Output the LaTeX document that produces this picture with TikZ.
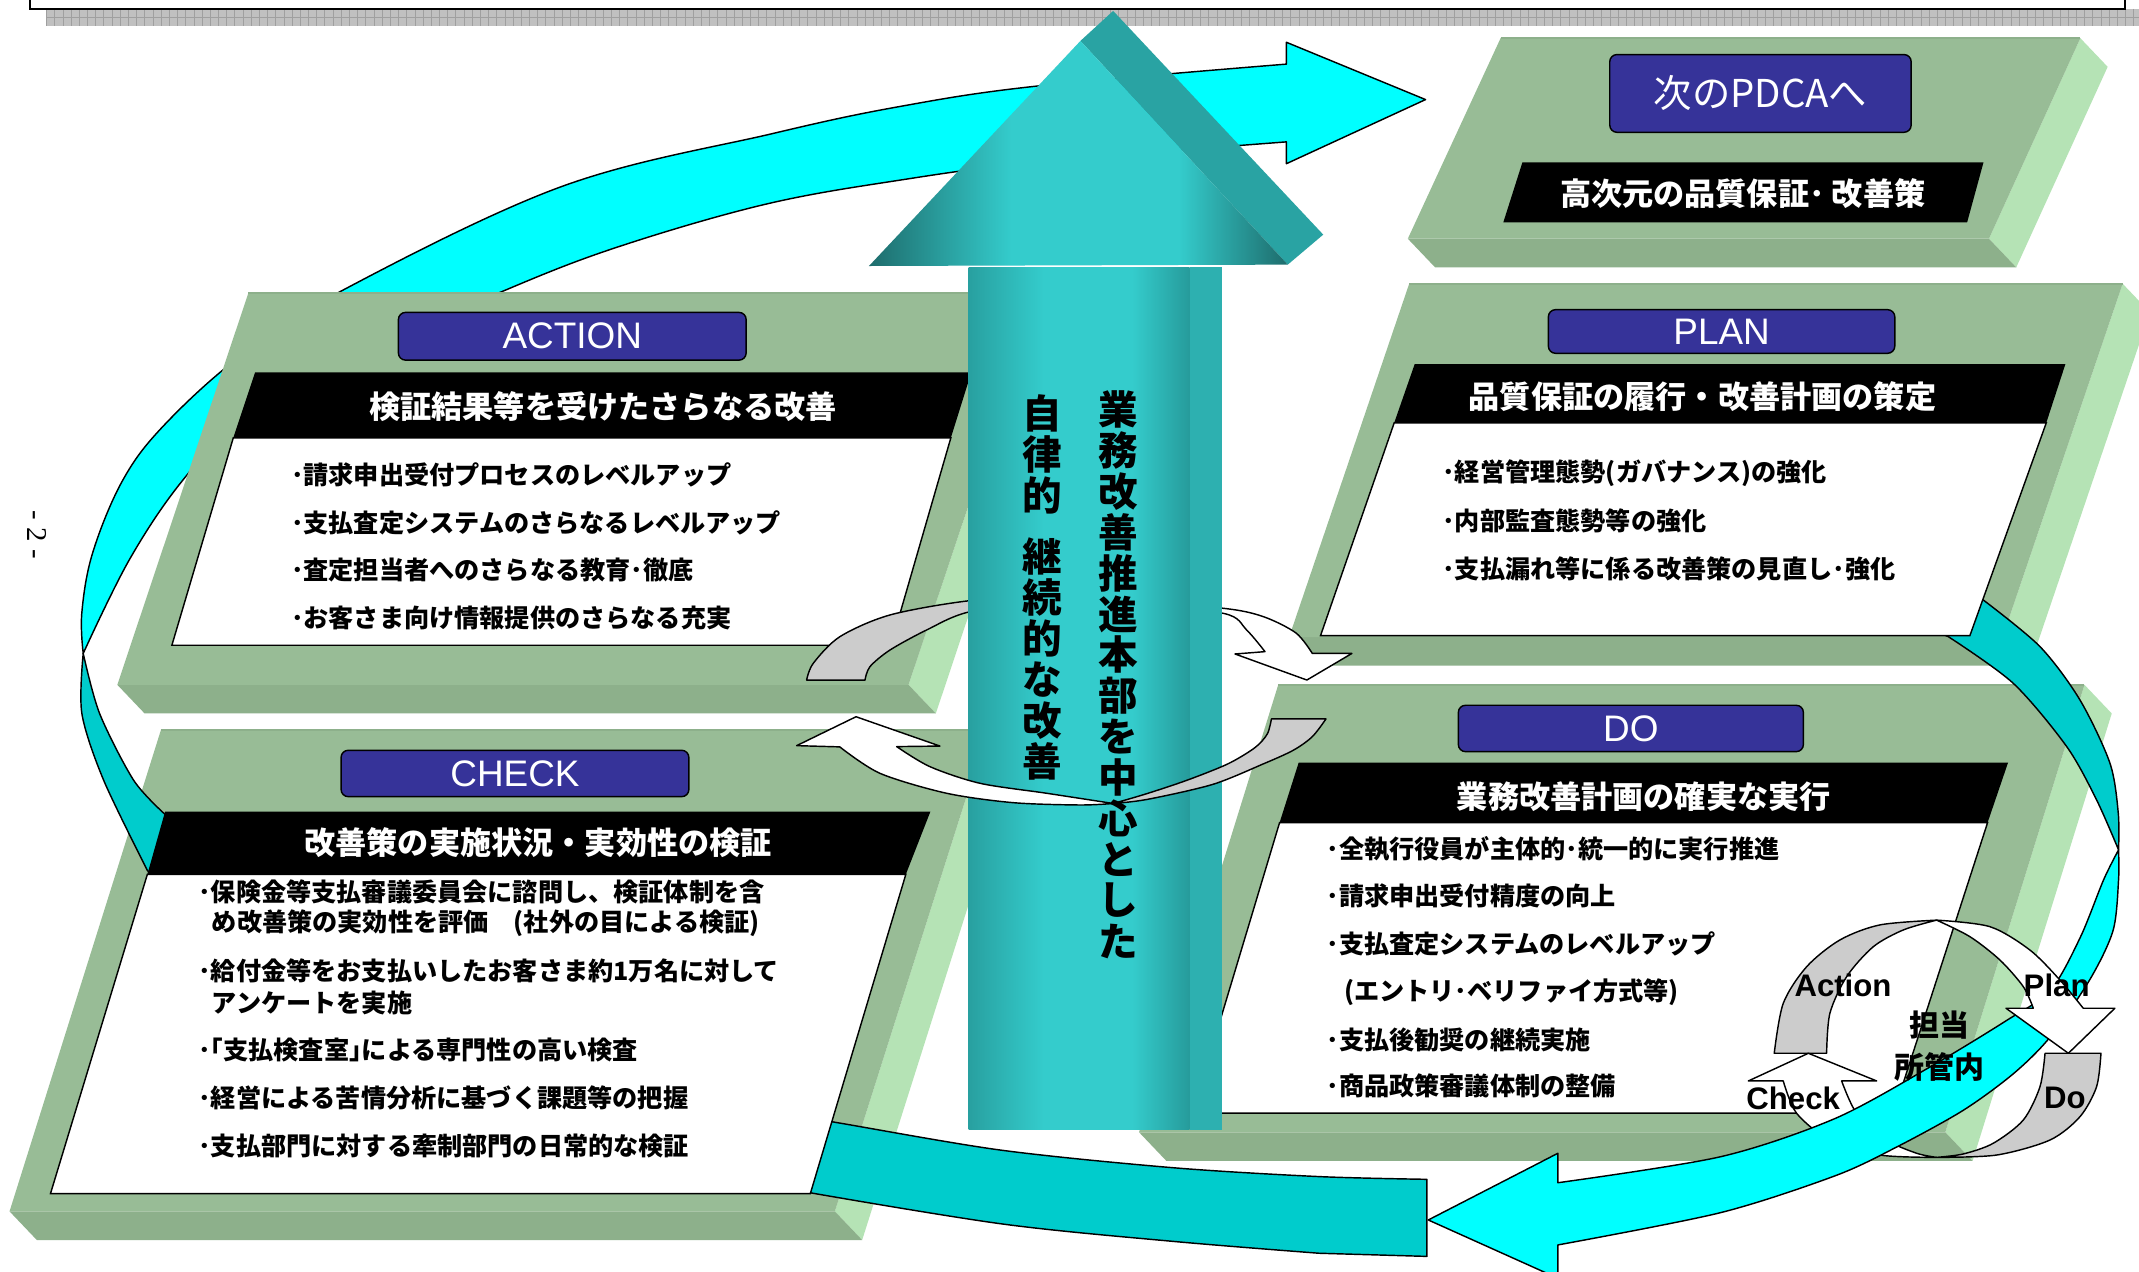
\documentclass[tikz,border=0pt]{standalone}
\usepackage{fontspec}
\usetikzlibrary{calc}
\newfontfamily\jp{Noto Sans CJK JP}
\newfontfamily\lab{Liberation Sans}
\newfontfamily\ser{Liberation Serif}
\definecolor{slabfront}{RGB}{152,188,150}
\definecolor{slabbot}{RGB}{141,176,139}
\definecolor{slabside}{RGB}{181,227,181}
\definecolor{cyanbright}{RGB}{0,255,255}
\definecolor{cyandark}{RGB}{0,204,204}
\definecolor{labblue}{RGB}{54,51,153}
\definecolor{ringgrey}{RGB}{204,204,204}
\definecolor{tealA}{RGB}{40,160,160}
\definecolor{tealB}{RGB}{52,204,204}
\definecolor{tealC}{RGB}{38,155,155}
\definecolor{tealSide}{RGB}{45,176,176}
\definecolor{tealHead}{RGB}{30,108,108}
\definecolor{tealHeadSide}{RGB}{41,163,163}
\definecolor{stripgrey}{RGB}{192,192,192}
\pgfdeclarehorizontalshading{shaftshade}{100bp}{color(0bp)=(tealA); color(25bp)=(tealA); color(42bp)=(tealB); color(62bp)=(tealB); color(75bp)=(tealC); color(100bp)=(tealC)}
\pgfdeclarehorizontalshading{headshade}{100bp}{color(0bp)=(tealHead); color(25bp)=(tealHead); color(42bp)=(tealB); color(62bp)=(tealB); color(75bp)=(tealHead); color(100bp)=(tealHead)}
\tikzset{
  band/.style={draw=black, line width=0.6pt, line join=round},
  brightband/.style={band, fill=cyanbright},
  darkband/.style={band, fill=cyandark},
  whitebox/.style={fill=white, draw=black, line width=0.6pt},
  labelbox/.style={fill=labblue, draw=black, line width=0.6pt, rounded corners=3pt, inner sep=0pt, text=white, font=\lab\fontsize{15.4}{17}\selectfont},
  item/.style={anchor=west, inner sep=0pt, font=\jp\bfseries\fontsize{10.5}{12}\selectfont},
  header/.style={inner sep=0pt, text=white, font=\jp\bfseries\fontsize{13}{15}\selectfont},
  vchar/.style={inner sep=0pt, font=\jp\bfseries\fontsize{16.5}{18}\selectfont},
  ringg/.style={fill=ringgrey, draw=black, line width=0.6pt, line join=round},
  ringw/.style={fill=white, draw=black, line width=0.6pt, line join=round},
  cyclab/.style={inner sep=0pt, font=\lab\bfseries\fontsize{13}{15}\selectfont},
  cycjp/.style={inner sep=0pt, font=\jp\bfseries\fontsize{12.5}{14}\selectfont},
}
\newcommand{\slabfaces}[4]{%
  \fill[slabside] (#2) -- ($(#2)+(20,21)$) -- ($(#3)+(20,21)$) -- (#3) -- cycle;
  \fill[slabbot] (#4) -- (#3) -- ($(#3)+(20,21)$) -- ($(#4)+(20,21)$) -- cycle;
  \fill[slabfront] (#1) -- (#2) -- (#3) -- (#4) -- cycle;
  \draw[slabbot, line width=0.8pt] (#1) -- (#2);
}
\begin{document}
\begin{tikzpicture}[x=0.02cm,y=-0.02cm]
\useasboundingbox (0,0) rectangle (1568,932);
\clip (0,0) rectangle (1568,932);
\fill[white] (0,0) rectangle (1568,932);

% header strip
\fill[stripgrey] (34,6.6) rectangle (1568,19);
\foreach \i in {0,...,255} \draw[gray!75, line width=0.15pt] ({34+6*\i},6.6) -- ({34+6*\i},19);
\draw[gray!75, line width=0.15pt] (34,12.8) -- (1568,12.8);
\draw[line width=0.8pt] (22,-2) -- (22,6.6) -- (1558,6.6) -- (1558,-2);

% page number
\node[rotate=-90, inner sep=0pt, font=\ser\fontsize{12}{14}\selectfont] (pg) at (27,392) {- 2 -};

% bright cyan band (left + top, arrow to next PDCA)
\filldraw[brightband] plot[smooth, tension=0.6] coordinates {(61,479) (60,449) (68,405) (90,352) (120,312) (175,262) (247,215) (411,137) (566,98) (660,78) (761,63) (943,47)}
  -- (943,31) -- (1045,73) -- (943,120) --
  plot[smooth, tension=0.6] coordinates {(943,104) (760,119) (660,132) (560,150) (450,182) (365,215) (260,262) (180,305) (134,352) (95,410) (61,479)} -- cycle;

% slab coordinates
\coordinate (nTL) at (1100,28);  \coordinate (nTR) at (1525,28);  \coordinate (nBR) at (1458,175); \coordinate (nBL) at (1032,175);
\coordinate (aTL) at (182,215);  \coordinate (aTR) at (762,215);  \coordinate (aBR) at (666,502);  \coordinate (aBL) at (86,502);
\coordinate (pTL) at (1033,208); \coordinate (pTR) at (1556,208); \coordinate (pBR) at (1468,467); \coordinate (pBL) at (945,467);
\coordinate (cTL) at (118,535);  \coordinate (cTR) at (724,535);  \coordinate (cBR) at (612,888);  \coordinate (cBL) at (7,888);
\coordinate (dTL) at (937,502);  \coordinate (dTR) at (1528,502); \coordinate (dBR) at (1426,830); \coordinate (dBL) at (835,830);

\slabfaces{nTL}{nTR}{nBR}{nBL}
\slabfaces{aTL}{aTR}{aBR}{aBL}
\slabfaces{pTL}{pTR}{pBR}{pBL}
\slabfaces{cTL}{cTR}{cBR}{cBL}
\slabfaces{dTL}{dTR}{dBR}{dBL}

% dark cyan bands (over slab faces, under boxes)
\filldraw[darkband] plot[smooth] coordinates {(61,479) (60,523) (76,572) (108,638)} -- (116,648) -- (135,600) --
  plot[smooth] coordinates {(121,597) (98,572) (73,523) (61,479)} -- cycle;
\filldraw[darkband] plot[smooth] coordinates {(560,815) (608,822) (733,843) (860,856) (967,862.5) (1046,864.5)} -- (1046,921) --
  plot[smooth] coordinates {(967,918.7) (860,910) (733,897) (575,871) (540,862)} -- cycle;
\filldraw[darkband] (1420,418) -- plot[smooth] coordinates {(1453.8,439.8) (1495.4,474) (1524.7,513.1) (1546.7,559.5) (1552.8,596.2) (1553,623)}
  -- plot[smooth] coordinates {(1553,623) (1536.9,586.4) (1515,547.3) (1475.8,500.9) (1428.2,466.7)} -- (1400,455) -- cycle;

% NEXT slab content
\fill[black] (1116,119) -- (1454,119) -- (1442,163) -- (1102,163) -- cycle;
\node[labelbox, minimum width=4.42cm, minimum height=1.14cm, font=\jp\fontsize{16}{18}\selectfont] (nextL) at (1290.5,68.5) {次のPDCAへ};
\node[header] (nextH) at (1277.5,142) {高次元の品質保証･ 改善策};

% ACTION slab content
\fill[black] (187,273) -- (712,273) -- (697,321) -- (171,321) -- cycle;
\filldraw[whitebox] (171,321) -- (697,321) -- (653,473) -- (126,473) -- cycle;
\node[labelbox, minimum width=5.1cm, minimum height=0.7cm] (actL) at (419.5,246.5) {ACTION};
\node[header] (actH) at (442,298) {検証結果等を受けたさらなる改善};
\node[item] (a1) at (213,348) {･請求申出受付プロセスのレベルアップ};
\node[item] (a2) at (213,383) {･支払査定システムのさらなるレベルアップ};
\node[item] (a3) at (213,418) {･査定担当者へのさらなる教育･徹底};
\node[item] (a4) at (213,453) {･お客さま向け情報提供のさらなる充実};

% PLAN slab content
\fill[black] (1037,267) -- (1514,267) -- (1500,310) -- (1022,310) -- cycle;
\filldraw[whitebox] (1022,310) -- (1500,310) -- (1444,466) -- (968,466) -- cycle;
\node[labelbox, minimum width=5.08cm, minimum height=0.64cm] (planL) at (1262,243) {PLAN};
\node[header] (planH) at (1248,291) {品質保証の履行・改善計画の策定};
\node[item] (p1) at (1057,347) {･経営管理態勢(ガバナンス)の強化};
\node[item] (p2) at (1057,382) {･内部監査態勢等の強化};
\node[item] (p3) at (1057,417) {･支払漏れ等に係る改善策の見直し･強化};

% CHECK slab content
\fill[black] (121,595) -- (682,595) -- (664,641) -- (108,641) -- cycle;
\filldraw[whitebox] (108,641) -- (664,641) -- (594,875) -- (37,875) -- cycle;
\node[labelbox, minimum width=5.1cm, minimum height=0.68cm] (chkL) at (377.5,567) {CHECK};
\node[header] (chkH) at (394.5,618) {改善策の実施状況・実効性の検証};
\node[item] (c1) at (145,654) {･保険金等支払審議委員会に諮問し、検証体制を含};
\node[item] (c2) at (155,677) {め改善策の実効性を評価　(社外の目による検証)};
\node[item] (c3) at (145,712) {･給付金等をお支払いしたお客さま約1万名に対して};
\node[item] (c4) at (155,735) {アンケートを実施};
\node[item] (c5) at (145,770) {･｢支払検査室｣による専門性の高い検査};
\node[item] (c6) at (145,805) {･経営による苦情分析に基づく課題等の把握};
\node[item] (c7) at (145,840) {･支払部門に対する牽制部門の日常的な検証};

% DO slab content
\fill[black] (952,559) -- (1472,559) -- (1457,603) -- (938,603) -- cycle;
\filldraw[whitebox] (938,603) -- (1457,603) -- (1388,816) -- (874,816) -- cycle;
\node[labelbox, minimum width=5.06cm, minimum height=0.68cm] (doL) at (1195.5,534) {DO};
\node[header] (doH) at (1205,584) {業務改善計画の確実な実行};
\node[item] (d1) at (972,622) {･全執行役員が主体的･統一的に実行推進};
\node[item] (d2) at (972,657) {･請求申出受付精度の向上};
\node[item] (d3) at (972,692) {･支払査定システムのレベルアップ};
\node[item] (d4) at (985,727) {(エントリ･ベリファイ方式等)};
\node[item] (d5) at (972,762) {･支払後勧奨の継続実施};
\node[item] (d6) at (972,796) {･商品政策審議体制の整備};

% central ring, back half
\filldraw[ringg] plot[smooth] coordinates {(591.3,498.5) (596.2,486.2) (615.7,466.7) (652.4,450.8) (711,440.3) (780,436)}
  -- plot[smooth] coordinates {(780,438) (711,448.4) (679.3,461.8) (652.4,476.5) (637.7,488.7) (634.1,498.5)} -- cycle;
\filldraw[ringw] plot[smooth] coordinates {(820,440) (896.7,445.9) (926,452) (950,464) (962,479)} -- (991,479) -- (958,498.5) -- (905.3,479.4) --
  plot[smooth] coordinates {(927.3,477.7) (913.8,461.8) (896.7,449.6) (820,442)} -- cycle;

% big teal arrow
\fill[tealSide] (872,196) rectangle (896,828);
\shade[shading=shaftshade] (710,196) rectangle (872,828);
\fill[tealHeadSide] (792,30) -- (816,8) -- (970,172) -- (944,194) -- cycle;
\shade[shading=headshade] (637,195) -- (792,30) -- (944,194) -- cycle;

% central ring, front half
\filldraw[ringw] (584,546.6) -- (627.5,525.4) -- (689,546.9) --
  plot[smooth] coordinates {(657.3,547.3) (681.7,562) (718.4,574.2) (767.2,581.5) (816,589)}
  -- plot[smooth] coordinates {(816,589) (791.7,590.1) (742.8,588.4) (693.9,581.5) (645.1,566.9) (615.6,547.5)} -- cycle;
\filldraw[ringg] plot[smooth] coordinates {(816,589) (841,586) (889,575) (926,560) (948,550) (962,540) (972,527)} -- (932,527) --
  plot[smooth] coordinates {(932,527) (929,538) (920,548) (900,560) (870,572) (840,582) (816,589)} -- cycle;

% vertical texts
\foreach \c [count=\i] in {業,務,改,善,推,進,本,部,を,中,心,と,し,た}{\node[vchar] (r\i) at (820,{270+30*\i}) {\c};}
\foreach \c/\yy [count=\i] in {自/303,律/333,的/363,継/408,続/438,的/468,な/498,改/528,善/558}{\node[vchar] (l\i) at (764,\yy) {\c};}

% small PDCA cycle
\filldraw[ringg] plot[smooth] coordinates {(1300.6,772.1) (1307.2,735.5) (1324.4,708.6) (1348.8,689) (1378.1,678) (1419.6,674.5)}
  -- plot[smooth] coordinates {(1419.6,674.5) (1395.2,681.7) (1373.2,694) (1353.7,715.9) (1341.4,742.8) (1339,772.1)} -- cycle;
\filldraw[ringw] (1281.6,792.4) -- (1325.6,772.1) -- (1375.7,792.4) --
  plot[smooth] coordinates {(1350,792.4) (1361,816.1) (1383,835.7) (1405,845.4) (1419.6,848.4)}
  -- plot[smooth] coordinates {(1419.6,848.4) (1378.1,846.7) (1341.4,835.7) (1317,816.1) (1307.2,792.4)} -- cycle;
\filldraw[ringg] (1499.1,772.1) --
  plot[smooth] coordinates {(1540.1,772.1) (1536.9,796.6) (1524.7,818.6) (1502.7,835.7) (1463.6,846.7) (1419.6,848.4)}
  -- plot[smooth] coordinates {(1419.6,848.4) (1439.2,845.9) (1461.1,838.1) (1483.2,821) (1495.4,796.6) (1499.1,772.1)} -- cycle;

% bright cyan band (right + bottom arrow)
\filldraw[brightband] plot[smooth] coordinates {(1553,623) (1553,645) (1549,682) (1532,718) (1503,760) (1476,787) (1439,814) (1390,841) (1345,862) (1261,889) (1142,912.6)}
  -- (1142,937) -- (1047,894.3) -- (1142,845.4) --
  plot[smooth] coordinates {(1142,867) (1261,848) (1345,820) (1415,782) (1471,748) (1503,726) (1525,687) (1542,645) (1553,623)} -- cycle;

% Plan arc with arrow
\filldraw[ringw] plot[smooth] coordinates {(1419.6,674.5) (1458.7,679.3) (1488,696.4) (1510,718.4) (1527.1,739.1)}
  -- (1550.3,739.1) -- (1516.2,772.1) -- (1470.5,739.1) --
  plot[smooth] coordinates {(1490.5,739.1) (1483.2,723.3) (1466,703.7) (1444,686.6) (1419.6,674.5)} -- cycle;

% cycle labels
\node[cyclab] (cyA) at (1351,722) {Action};
\node[cyclab] (cyP) at (1507.6,722) {Plan};
\node[cyclab] (cyC) at (1314.5,805) {Check};
\node[cyclab] (cyD) at (1513.7,805) {Do};
\node[cycjp] (cyT1) at (1422,751.4) {担当};
\node[cycjp] (cyT2) at (1422,782) {所管内};
\end{tikzpicture}
\end{document}
